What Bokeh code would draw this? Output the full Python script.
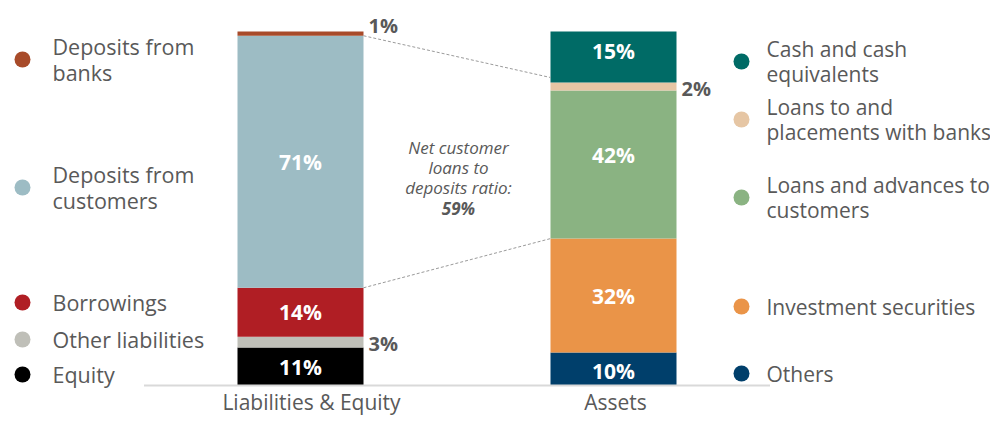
from bokeh.plotting import figure
from bokeh.models import ColumnDataSource, Range1d
from bokeh.core.properties import value
from bokeh.embed import file_html
from bokeh.resources import INLINE

# ---------------- data ----------------
categories = ["Liabilities & Equity", "Assets"]

left_names = ["Equity", "Other liabilities", "Borrowings",
              "Deposits from\ncustomers", "Deposits from\nbanks"]
left_values = [10.7, 3.1, 13.8, 71.2, 1.2]
left_text = ["11%", "3%", "14%", "71%", "1%"]
left_colors = ["#000000", "#BFBFB8", "#B01E24", "#9DBCC4", "#A84B2A"]

right_names = ["Others", "Investment securities",
               "Loans and advances to\ncustomers",
               "Loans to and\nplacements with banks",
               "Cash and cash\nequivalents"]
right_values = [9.3, 32.2, 41.8, 2.3, 14.4]
right_text = ["10%", "32%", "42%", "2%", "15%"]
right_colors = ["#003F6B", "#EA9448", "#8AB382", "#E6C6A4", "#006B66"]

ratio_text = "59%"
connector_right_top = 87.0  # where the upper connector meets the assets bar

# ---------------- layout helpers (reference pixels -> data) ----------------
PX_X0, PX_PER_X = 300.0, 313.0     # category 0 centre, px per category
PX_Y0, PX_PER_Y = 385.0, 3.54      # value 0 baseline, px per percent
def rx(px):
    return (px - PX_X0) / PX_PER_X
def ry(px):
    return (PX_Y0 - px) / PX_PER_Y

W, H = 990, 417
BAR_W = 126 / PX_PER_X
GRAY = "#595959"
FONT = value("Open Sans")

p = figure(width=W, height=H, output_backend="svg", toolbar_location=None,
           x_range=Range1d(rx(0), rx(W)), y_range=Range1d(ry(H), ry(0)),
           x_axis_location=None, y_axis_location=None, min_border=0)
p.grid.visible = False
p.outline_line_color = None
p.background_fill_color = "white"

# ---------------- bars ----------------
def stack(vals):
    b, t = [], []
    acc = 0.0
    for v in vals:
        b.append(acc)
        acc += v
        t.append(acc)
    return b, t

lb, lt = stack(left_values)
rb, rt = stack(right_values)

bars = ColumnDataSource(dict(
    x=[0] * len(left_values) + [1] * len(right_values),
    bottom=lb + rb, top=lt + rt,
    color=left_colors + right_colors))
p.vbar(x="x", bottom="bottom", top="top", width=BAR_W, color="color",
       line_color=None, source=bars)

# baseline
p.segment(x0=[-0.5], y0=[0], x1=[1.5], y1=[0], line_color="#D9D9D9", line_width=2)

# connectors
cust_b, cust_t = lb[3], lt[3]
loans_b = rb[2]
p.segment(x0=[BAR_W / 2, BAR_W / 2], y0=[cust_t, cust_b],
          x1=[1 - BAR_W / 2, 1 - BAR_W / 2], y1=[connector_right_top, loans_b],
          line_color="#9A9A9A", line_width=1, line_dash="3 2")

# ---------------- value labels ----------------
inside_offsets = {"15%": 6, "42%": 10, "10%": -2}    # px upward nudges
outside_offsets = {"1%": 8, "3%": -1.5, "2%": -2}

ix, iy, itxt, ox, oy, otxt = [], [], [], [], [], []
for xc, bs, ts, txts, vals in [(0, lb, lt, left_text, left_values),
                               (1, rb, rt, right_text, right_values)]:
    for b, t, s, v in zip(bs, ts, txts, vals):
        mid = (b + t) / 2
        if v >= 5:
            ix.append(xc)
            iy.append(mid + inside_offsets.get(s, 0) / PX_PER_Y)
            itxt.append(s)
        else:
            ox.append(xc + BAR_W / 2)
            oy.append(mid + outside_offsets.get(s, 0) / PX_PER_Y)
            otxt.append(s)

p.text(x=ix, y=iy, text=itxt, text_color="white", text_font=FONT,
       text_font_style="bold", text_font_size="21px", text_align="center",
       text_baseline="middle")
p.text(x=ox, y=oy, text=otxt, text_color=GRAY, text_font=FONT,
       text_font_style="bold", text_font_size="20px", text_align="left",
       text_baseline="middle", x_offset=5)

# ---------------- category labels ----------------
p.text(x=[0, 1], y=[ry(401)] * 2, text=categories, text_color=GRAY,
       text_font=FONT, text_font_size="21px", text_align="center",
       text_baseline="middle", x_offset=[11, 2])

# ---------------- ratio annotation ----------------
p.text(x=[rx(458)], y=[ry(167)], text=["Net customer\nloans to\ndeposits ratio:"],
       text_color=GRAY, text_font=FONT, text_font_style="italic",
       text_font_size="17px", text_align="center", text_baseline="middle",
       text_line_height=0.85)
p.text(x=[rx(458)], y=[ry(208)], text=[ratio_text], text_color=GRAY,
       text_font=FONT, text_font_style="bold italic", text_font_size="17px",
       text_align="center", text_baseline="middle")

# ---------------- legends ----------------
left_leg_y = [374, 339, 302, 187, 59]
right_leg_y = [373, 306, 197, 119, 61]

for mx, tx, ys, names, cols, fs in [
        (22, 52, left_leg_y, left_names, left_colors, "21.5px"),
        (741, 766, right_leg_y, right_names, right_colors, "21px")]:
    p.scatter(x=[rx(mx)] * len(ys), y=[ry(v) for v in ys], size=16,
              marker="circle", fill_color=cols, line_color=None)
    p.text(x=[rx(tx)] * len(ys), y=[ry(v) for v in ys], text=names,
           text_color=GRAY, text_font=FONT, text_font_size=fs,
           text_align="left", text_baseline="middle", text_line_height=0.88)

open("out.html", "w").write(file_html(p, INLINE))
